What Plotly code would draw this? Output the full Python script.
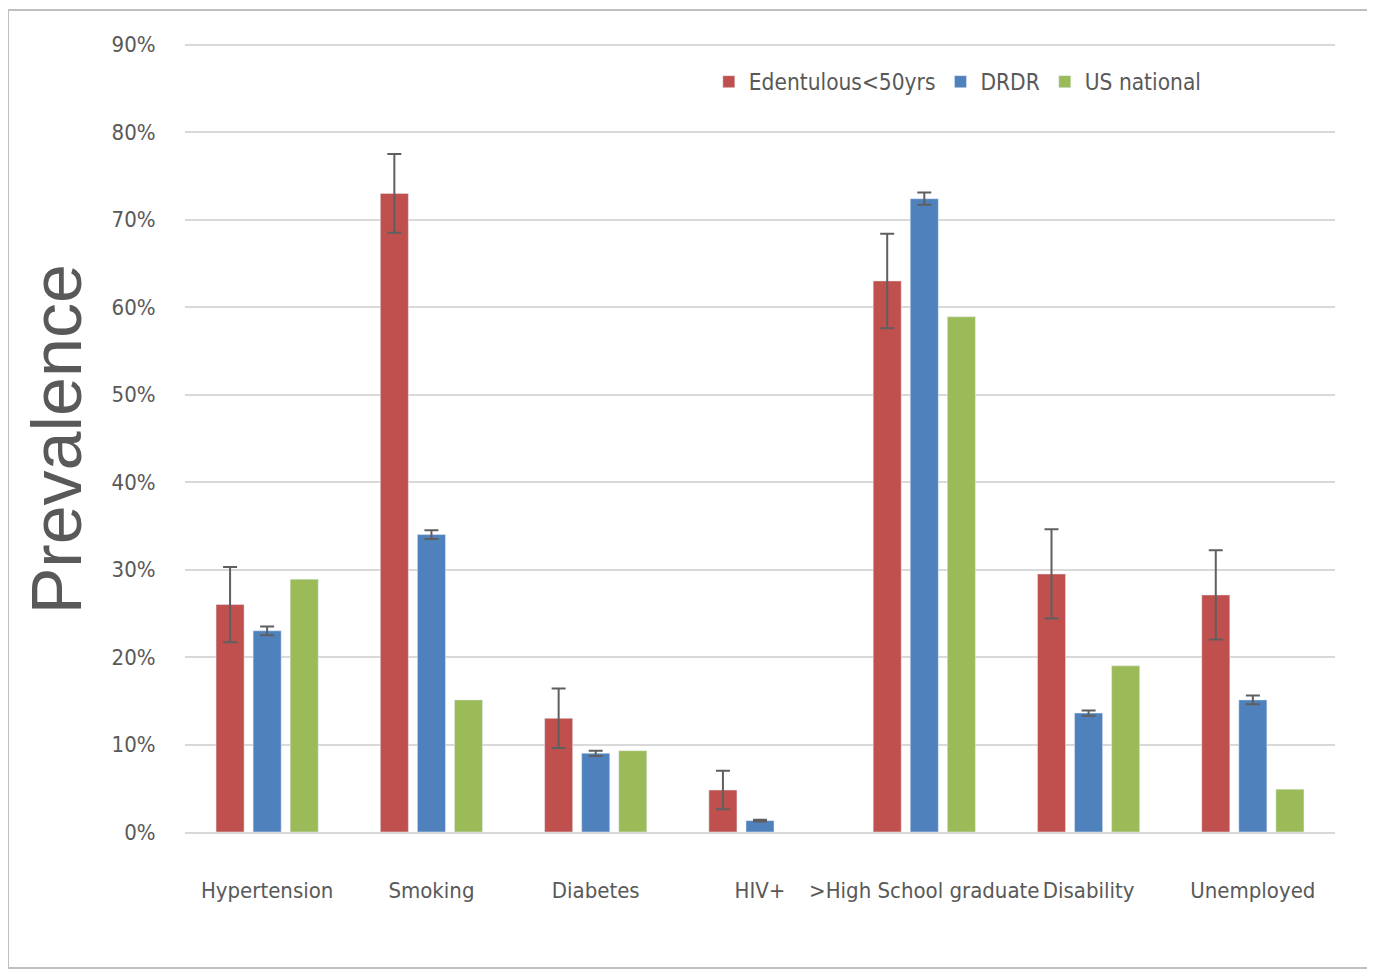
import plotly.graph_objects as go

categories = ["Hypertension", "Smoking", "Diabetes", "HIV+", ">High School graduate", "Disability", "Unemployed"]
edentulous = [0.26, 0.73, 0.13, 0.048, 0.63, 0.295, 0.271]
edentulous_err = [0.043, 0.045, 0.034, 0.022, 0.054, 0.051, 0.051]
drdr = [0.23, 0.34, 0.09, 0.013, 0.724, 0.136, 0.151]
drdr_err = [0.005, 0.005, 0.003, 0.001, 0.007, 0.003, 0.005]
us_national = [0.289, 0.151, 0.093, None, 0.589, 0.19, 0.049]
yticks = [0, 0.1, 0.2, 0.3, 0.4, 0.5, 0.6, 0.7, 0.8, 0.9]

FONT = "DejaVu Sans Condensed, Liberation Sans Narrow, Arial Narrow, Liberation Sans, sans-serif"
TXT = "#595959"
ERR = "#5f5f5f"

fig = go.Figure()
fig.add_trace(go.Bar(
    name="Edentulous<50yrs", x=categories, y=edentulous,
    marker=dict(color="#C0504D"),
    error_y=dict(type="data", array=edentulous_err, symmetric=True, color=ERR, thickness=2, width=7),
))
fig.add_trace(go.Bar(
    name="DRDR", x=categories, y=drdr,
    marker=dict(color="#4F81BD"),
    error_y=dict(type="data", array=drdr_err, symmetric=True, color=ERR, thickness=2, width=7),
))
fig.add_trace(go.Bar(
    name="US national", x=categories, y=us_national,
    marker=dict(color="#9BBB59"),
))

fig.update_layout(
    width=1375, height=971,
    margin=dict(l=177, r=48, t=28, b=147, autoexpand=False),
    paper_bgcolor="white", plot_bgcolor="white",
    barmode="group", bargap=0.323, bargroupgap=0.243,
    font=dict(family=FONT, size=22, color=TXT),
    legend=dict(orientation="h", x=0.4555, y=0.9422, xanchor="left", yanchor="middle",
                font=dict(family=FONT, size=22.5, color=TXT), bgcolor="rgba(0,0,0,0)",
                tracegroupgap=0),
    xaxis=dict(showgrid=False, showline=True, linecolor="#D9D9D9", linewidth=2,
               ticks="outside", ticklen=38, tickcolor="rgba(0,0,0,0)", tickangle=0,
               automargin=False,
               tickfont=dict(family=FONT, size=22, color=TXT)),
    yaxis=dict(range=[0, 0.91], tickvals=yticks, tickformat=".0%",
               showgrid=True, gridcolor="#D9D9D9", gridwidth=2,
               zeroline=False, showline=False, automargin=False,
               ticks="outside", ticklen=24, tickcolor="rgba(0,0,0,0)",
               tickfont=dict(family=FONT, size=22, color=TXT)),
    shapes=[dict(type="rect", xref="paper", yref="paper",
                 x0=-0.1539, x1=1.0304, y0=-0.1709, y1=1.0327,
                 line=dict(color="#BFBFBF", width=2), layer="below")],
    annotations=[dict(text="Prevalence", xref="paper", yref="paper",
                      x=-0.111, y=0.4937, xanchor="center", yanchor="middle",
                      textangle=-90, showarrow=False,
                      font=dict(family="Liberation Sans, Arial, sans-serif", size=70, color=TXT))],
)

fig.write_html("out.html")
